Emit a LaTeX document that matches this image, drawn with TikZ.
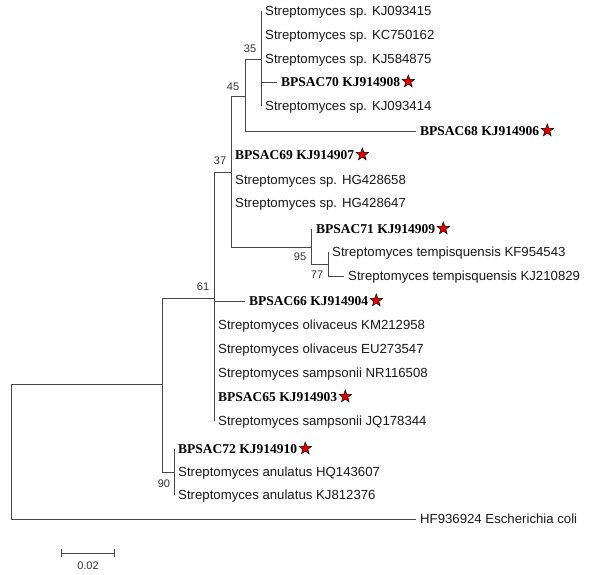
\documentclass[tikz,border=0pt]{standalone}
\usepackage{fontspec}
\setmainfont{Liberation Sans}
\newfontfamily\tnr{Liberation Serif}
\usetikzlibrary{shapes.geometric,calc}
\tikzset{
  branch/.style={draw=black!72, line width=0.85pt},
  leaf/.style={anchor=west, inner xsep=4pt, inner ysep=0pt, text height=9pt, text depth=0pt,
    font=\fontsize{13.2}{15}\selectfont, text=black!90},
  bleaf/.style={leaf, font=\tnr\bfseries\fontsize{13.5}{15}\selectfont, text=black},
  mark star/.style={star, star points=5, star point ratio=2.4, minimum size=13pt, inner sep=0pt,
    fill=red!90!black, draw=black, line width=0.5pt},
  supp/.style={font=\fontsize{11}{13}\selectfont, text=black!80, inner sep=0pt},
}
\begin{document}
\begin{tikzpicture}[x=1pt,y=-1pt]
\useasboundingbox (0,0) rectangle (600,575);
% internal nodes
\coordinate (root) at (11,452);
\coordinate (nin) at (162,384);
\coordinate (n61) at (214,298);
\coordinate (n37) at (231,172);
\coordinate (n45) at (245,96);
\coordinate (n35) at (261,59);
\coordinate (n95) at (311,247);
\coordinate (n77) at (328,264);
\coordinate (n90) at (174,472);
% leaves
\node[leaf]  (a1)  at (261,11)  {Streptomyces sp. KJ093415};
\node[leaf]  (a2)  at (261,35)  {Streptomyces sp. KC750162};
\node[leaf]  (a3)  at (261,59)  {Streptomyces sp. KJ584875};
\node[bleaf] (a4)  at (277,82)  {BPSAC70 KJ914908};
\node[leaf]  (a5)  at (261,106) {Streptomyces sp. KJ093414};
\node[bleaf] (a6)  at (416,131) {BPSAC68 KJ914906};
\node[bleaf] (a7)  at (231,155) {BPSAC69 KJ914907};
\node[leaf]  (a8)  at (231,180) {Streptomyces sp. HG428658};
\node[leaf]  (a9)  at (231,203) {Streptomyces sp. HG428647};
\node[bleaf] (a10) at (312,229) {BPSAC71 KJ914909};
\node[leaf]  (a11) at (328,252) {Streptomyces tempisquensis KF954543};
\node[leaf]  (a12) at (344,276) {Streptomyces tempisquensis KJ210829};
\node[bleaf] (a13) at (245,301) {BPSAC66 KJ914904};
\node[leaf]  (a14) at (214,325) {Streptomyces olivaceus KM212958};
\node[leaf]  (a15) at (214,349) {Streptomyces olivaceus EU273547};
\node[leaf]  (a16) at (214,373) {Streptomyces sampsonii NR116508};
\node[bleaf] (a17) at (214,397) {BPSAC65 KJ914903};
\node[leaf]  (a18) at (214,421) {Streptomyces sampsonii JQ178344};
\node[bleaf] (a19) at (174,449) {BPSAC72 KJ914910};
\node[leaf]  (a20) at (174,472) {Streptomyces anulatus HQ143607};
\node[leaf]  (a21) at (174,495) {Streptomyces anulatus KJ812376};
\node[leaf]  (a22) at (416,519) {HF936924 Escherichia coli};
% stars
\foreach \s in {a4,a6,a7,a10,a13,a17,a19}
  \node[mark star] (star-\s) at ([xshift=4pt,yshift=0.5pt]\s.east) {};
% branches
\draw[branch] (n35) |- (a1.west);
\draw[branch] (n35) |- (a2.west);
\draw[branch] (n35) |- (a3.west);
\draw[branch] (n35) |- (a4.west);
\draw[branch] (n35) |- (a5.west);
\draw[branch] (n45) |- (n35);
\draw[branch] (n45) |- (a6.west);
\draw[branch] (n37) |- (n45);
\draw[branch] (n37) |- (a7.west);
\draw[branch] (n37) |- (a8.west);
\draw[branch] (n37) |- (a9.west);
\draw[branch] (n37) |- (n95);
\draw[branch] (n95) |- (a10.west);
\draw[branch] (n95) |- (n77);
\draw[branch] (n77) |- (a11.west);
\draw[branch] (n77) |- (a12.west);
\draw[branch] (n61) |- (n37);
\draw[branch] (n61) |- (a13.west);
\draw[branch] (n61) |- (a14.west);
\draw[branch] (n61) |- (a15.west);
\draw[branch] (n61) |- (a16.west);
\draw[branch] (n61) |- (a17.west);
\draw[branch] (n61) |- (a18.west);
\draw[branch] (nin) |- (n61);
\draw[branch] (nin) |- (n90);
\draw[branch] (n90) |- (a19.west);
\draw[branch] (n90) |- (a20.west);
\draw[branch] (n90) |- (a21.west);
\draw[branch] (root) |- (nin);
\draw[branch] (root) |- (a22.west);
% support values
\node[supp] (s35) at ($(n35)+(-11,-10)$) {35};
\node[supp] (s45) at ($(n45)+(-12,-9)$) {45};
\node[supp] (s37) at ($(n37)+(-11,-11)$) {37};
\node[supp] (s61) at ($(n61)+(-11,-11)$) {61};
\node[supp] (s95) at ($(n95)+(-11,10)$) {95};
\node[supp] (s77) at ($(n77)+(-11,11)$) {77};
\node[supp] (s90) at ($(n90)+(-10,12)$) {90};
% scale bar
\coordinate (sb1) at (61,553);
\coordinate (sb2) at (114,553);
\draw[branch] (sb1) -- (sb2);
\draw[branch] ([yshift=-4pt]sb1) -- ([yshift=4pt]sb1);
\draw[branch] ([yshift=-4pt]sb2) -- ([yshift=4pt]sb2);
\node[supp] (sbl) at (88,566) {0.02};
\end{tikzpicture}
\end{document}
